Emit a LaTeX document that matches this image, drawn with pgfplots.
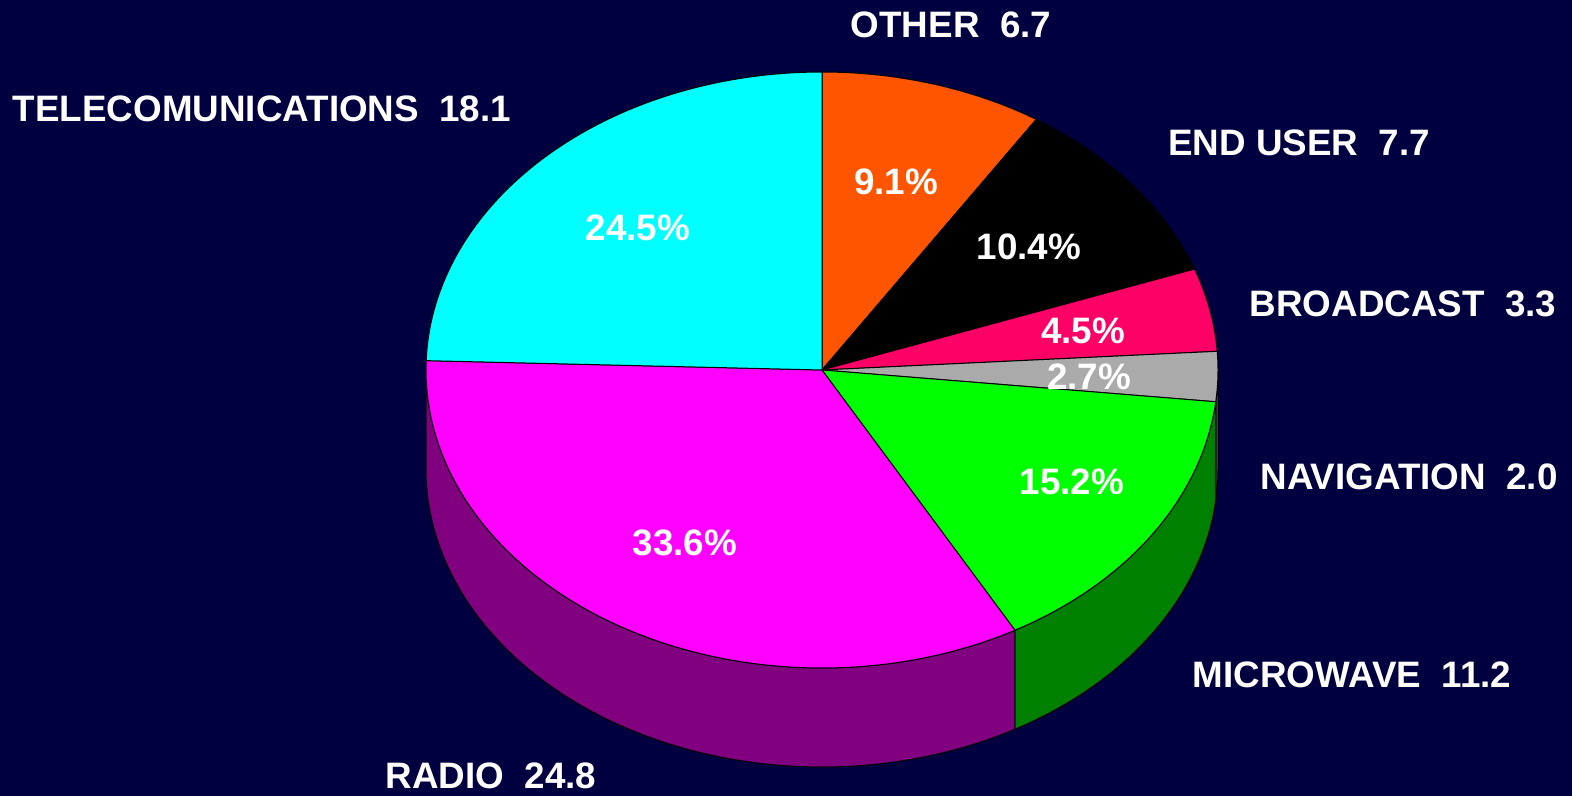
\documentclass[border=0pt]{standalone}
\usepackage{pgfplots}
\pgfplotsset{compat=1.18}
\usepackage{fontspec}
\setmainfont{Liberation Sans}
\definecolor{bg}{RGB}{0,0,64}
\definecolor{cOther}{RGB}{255,85,0}
\definecolor{cEnd}{RGB}{0,0,0}
\definecolor{cBroad}{RGB}{255,0,102}
\definecolor{cNav}{RGB}{170,170,170}
\definecolor{cMicro}{RGB}{0,255,0}
\definecolor{cRadio}{RGB}{255,0,255}
\definecolor{cTele}{RGB}{0,255,255}
\definecolor{sNav}{RGB}{85,85,85}
\definecolor{sMicro}{RGB}{0,128,0}
\definecolor{sRadio}{RGB}{128,0,128}
\tikzset{lab/.style={font=\fontsize{18.4}{22}\selectfont\bfseries, text=white, inner sep=0pt, anchor=center}}
% top face sector: start %, end % (cumulative), colour
\newcommand{\topsector}[3]{%
\addplot[fill=#3, draw=black, line width=0.5pt, domain=-0.01:1.01, samples=103, variable=\s,
  declare function={tt(\q)=3.6*(#1+(#2-#1)*min(max(\q,0),1)); rr(\q)=(\q>-0.005)*(\q<1.005);}]
 ({822+rr(\s)*396*sin(tt(\s))},{370-rr(\s)*298*cos(tt(\s))});
}
% side face: start deg, end deg, colour
\newcommand{\sideface}[3]{%
\addplot[fill=#3, draw=black, line width=0.5pt, domain=0:2.01, samples=202, variable=\s,
  declare function={tt(\q)=(\q<=1.005)*(#1+(#2-#1)*min(\q,1)) + (\q>1.005)*(\q<=2.005)*(#2-(#2-#1)*min(max((\q-1.01)/0.99,0),1)) + (\q>2.005)*#1; dd(\q)=(\q>1.005)*(\q<=2.005);}]
 ({822+396*sin(tt(\s))},{370+99*dd(\s)-298*cos(tt(\s))});
}
\begin{document}
\begin{tikzpicture}
\begin{axis}[
  scale only axis, width=786pt, height=398pt,
  xmin=0, xmax=1572, ymin=0, ymax=796, y dir=reverse,
  hide axis, clip=false,
]
\addplot[fill=bg, draw=none] coordinates {(0,0) (1572,0) (1572,796) (0,796) (0,0)};
% side faces (front half, 90 to 270 degrees)
\sideface{90}{96.12}{sNav}
\sideface{96.12}{150.84}{sMicro}
\sideface{150.84}{270}{sRadio}
% top face: cumulative shares 0, 9.1, 19.5, 24.0, 26.7, 41.9, 75.5, 100
\topsector{0}{9.1}{cOther}
\topsector{9.1}{19.5}{cEnd}
\topsector{19.5}{24.0}{cBroad}
\topsector{24.0}{26.7}{cNav}
\topsector{26.7}{41.9}{cMicro}
\topsector{41.9}{75.5}{cRadio}
\topsector{75.5}{100}{cTele}
% percentage labels
\node[lab] at (axis cs:896,182) {9.1\%};
\node[lab] at (axis cs:1029,247) {10.4\%};
\node[lab] at (axis cs:1083,331) {4.5\%};
\node[lab] at (axis cs:1089,377) {2.7\%};
\node[lab] at (axis cs:1072,482) {15.2\%};
\node[lab] at (axis cs:685,543) {33.6\%};
\node[lab] at (axis cs:638,228) {24.5\%};
% category labels
\node[lab] at (axis cs:951,25) {OTHER\hspace{0.556em}6.7};
\node[lab] at (axis cs:262,109) {TELECOMUNICATIONS\hspace{0.556em}18.1};
\node[lab] at (axis cs:1299,143) {END USER\hspace{0.556em}7.7};
\node[lab] at (axis cs:1403,304) {BROADCAST\hspace{0.556em}3.3};
\node[lab] at (axis cs:1409,477) {NAVIGATION\hspace{0.556em}2.0};
\node[lab] at (axis cs:1352,675) {MICROWAVE\hspace{0.556em}11.2};
\node[lab] at (axis cs:491,776) {RADIO\hspace{0.556em}24.8};
\end{axis}
\end{tikzpicture}
\end{document}
